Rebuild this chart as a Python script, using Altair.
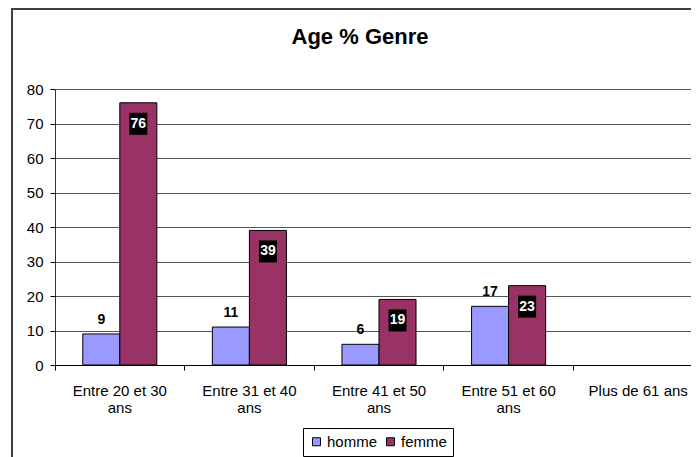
import altair as alt
import pandas as pd

categories = ["Entre 20 et 30 ans", "Entre 31 et 40 ans", "Entre 41 et 50 ans",
              "Entre 51 et 60 ans", "Plus de 61 ans"]
homme = [9, 11, 6, 17, None]
femme = [76, 39, 19, 23, None]
series = ["homme", "femme"]
colors = ["#9999FF", "#993366"]
chart_title = "Age % Genre"
y_ticks = [0, 10, 20, 30, 40, 50, 60, 70, 80]

rows = []
for c, h, f in zip(categories, homme, femme):
    rows.append({"cat": c, "genre": "homme", "val": h})
    rows.append({"cat": c, "genre": "femme", "val": f})
df = pd.DataFrame(rows)

FONT = "Liberation Sans"
W, H = 648, 276

x_axis = alt.Axis(
    title=None, labelAngle=0, bandPosition=0,
    labelFont=FONT, labelFontSize=15, labelColor="black", labelPadding=13,
    labelLineHeight=17, labelOverlap=False, labelBound=False,
    tickSize=5, tickColor="black", domainColor="black", grid=False,
    labelExpr="indexof(datum.label,'Entre')==0 ? [substring(datum.label,0,length(datum.label)-4),'ans'] : datum.label",
)
x_enc = alt.X("cat:N", sort=categories,
              scale=alt.Scale(domain=categories, paddingInner=0, paddingOuter=0),
              axis=x_axis)
xo_enc = alt.XOffset("genre:N", sort=series,
                     scale=alt.Scale(domain=series, paddingInner=0, paddingOuter=0.75))
y_enc = alt.Y("val:Q", scale=alt.Scale(domain=[0, 80], nice=False),
              axis=alt.Axis(title=None, values=y_ticks, labelFont=FONT, labelFontSize=15,
                            labelColor="black", labelPadding=7, tickSize=5,
                            tickColor="black", domainColor="#333", gridColor="#555",
                            gridWidth=1))

base = alt.Chart(df)

bars = base.mark_bar(stroke="black", strokeWidth=1).encode(
    x=x_enc, xOffset=xo_enc, y=y_enc,
    color=alt.Color("genre:N", sort=series,
                    scale=alt.Scale(domain=series, range=colors),
                    legend=alt.Legend(title=None, orient="none", legendX=248, legendY=339,
                                      direction="horizontal", symbolType="square",
                                      symbolSize=64, symbolStrokeColor="black",
                                      symbolStrokeWidth=1, labelFont=FONT,
                                      labelFontSize=15, labelColor="black",
                                      labelOffset=3, columnPadding=5, padding=6,
                                      strokeColor="black", fillColor="white")),
)

homme_lbl = base.transform_filter(
    "datum.genre == 'homme' && isValid(datum.val)"
).mark_text(font=FONT, fontSize=14, fontWeight="bold", color="black",
            baseline="alphabetic", dy=-10).encode(
    x=x_enc, xOffset=xo_enc, y=y_enc, text=alt.Text("val:Q"))

femme_box = base.transform_filter(
    "datum.genre == 'femme' && isValid(datum.val)"
).mark_point(shape="M-9,10H9V32H-9Z", size=4, filled=True, fill="black",
             opacity=1, strokeWidth=0).encode(
    x=x_enc, xOffset=xo_enc, y=y_enc)

femme_lbl = base.transform_filter(
    "datum.genre == 'femme' && isValid(datum.val)"
).mark_text(font=FONT, fontSize=14, fontWeight="bold", color="white",
            baseline="middle", dy=21).encode(
    x=x_enc, xOffset=xo_enc, y=y_enc, text=alt.Text("val:Q"))

one = pd.DataFrame({"t": [chart_title]})
title_txt = alt.Chart(one).mark_text(font=FONT, fontSize=22, fontWeight="bold",
                                     color="black", align="center",
                                     baseline="alphabetic").encode(
    x=alt.value(305), y=alt.value(-45), text="t:N")
border_left = alt.Chart(one).mark_rule(color="#404040", strokeWidth=2).encode(
    x=alt.value(-43), y=alt.value(-80), y2=alt.value(420))
border_top = alt.Chart(one).mark_rule(color="#404040", strokeWidth=2).encode(
    x=alt.value(-44), x2=alt.value(700), y=alt.value(-80))

chart = alt.layer(bars, homme_lbl, femme_box, femme_lbl, title_txt,
                  border_left, border_top).properties(
    width=W, height=H,
    autosize=alt.AutoSizeParams(type="none"),
    padding={"left": 47, "top": 81, "right": -12, "bottom": 92},
).configure_view(stroke=None).configure(background="white")

chart.save("out.html", embed_options={"renderer": "svg", "actions": False})
